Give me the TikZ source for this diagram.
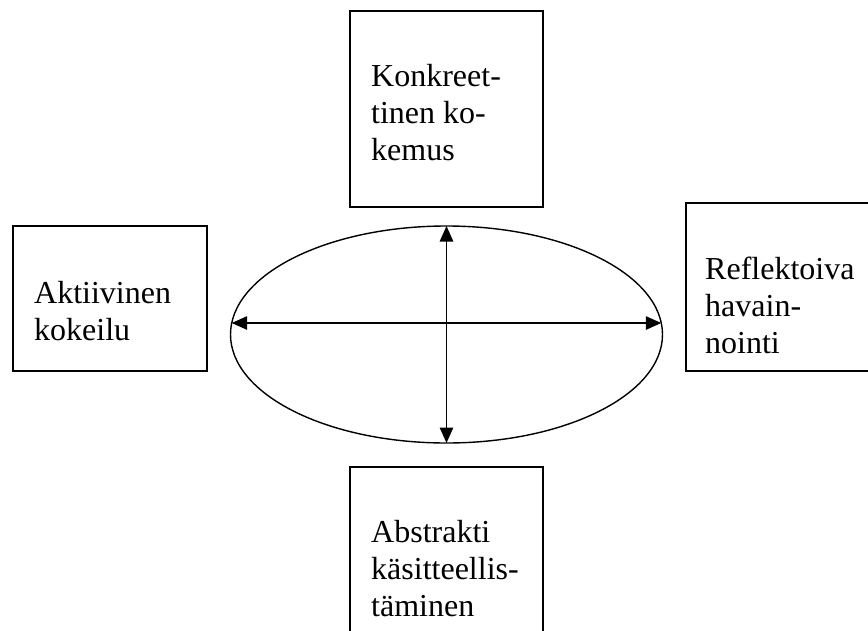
\documentclass[tikz,border=0pt]{standalone}
\usepackage{fontspec}
\setmainfont{Liberation Serif}
\usepackage{tikz}
\usetikzlibrary{calc,shapes,arrows.meta,positioning}

\tikzset{
    laatikko/.style={draw, line width=1.2pt, rectangle, inner sep=0pt, outer sep=0pt},
    teksti/.style={font=\fontsize{32}{37}\selectfont, align=left, inner sep=0pt},
    nuoli/.style={line width=1.3pt, {Triangle[length=15.5pt,width=13.5pt]}-{Triangle[length=15.5pt,width=13.5pt]}}
}

\begin{document}
\begin{tikzpicture}[x=1pt,y=-1pt]
        \useasboundingbox (0,0) rectangle (868,630);
        \clip (0,0) rectangle (868,630);
        \node[laatikko, minimum width=193pt, minimum height=196pt] (ylos) at (446.5,109) {};
        \node[laatikko, minimum width=194pt, minimum height=145pt] (vasen) at (110,298.5) {};
        \node[laatikko, minimum width=193pt, minimum height=168pt] (oikea) at (782.5,287) {};
        \node[laatikko, minimum width=193pt, minimum height=196pt] (alas) at (446.5,565) {};
        \node[teksti, below right=53pt and 21pt of ylos.north west] (kokemus) {Konkreet-\\tinen ko-\\kemus};
        \node[teksti, below right=55pt and 21pt of vasen.north west] (kokeilu) {Aktiivinen\\kokeilu};
        \node[teksti, below right=54pt and 19pt of oikea.north west] (havainnointi) {Reflektoiva\\havain-\\nointi};
        \node[teksti, below right=53pt and 21pt of alas.north west] (kasitteellistaminen) {Abstrakti\\käsitteellis-\\täminen};
        \node[draw, ellipse, line width=1.4pt, inner sep=0pt, outer sep=0pt,
            minimum width=432pt, minimum height=217pt] (ellipsi) at (446.5,334.5) {};
        \coordinate (vasenpaa) at (231.7,323);
        \coordinate (oikeapaa) at (661.3,323);
        \draw[nuoli] (vasenpaa) -- (oikeapaa);
        \draw[nuoli] (ellipsi.north) -- (ellipsi.south);
    \end{tikzpicture}
\end{document}
